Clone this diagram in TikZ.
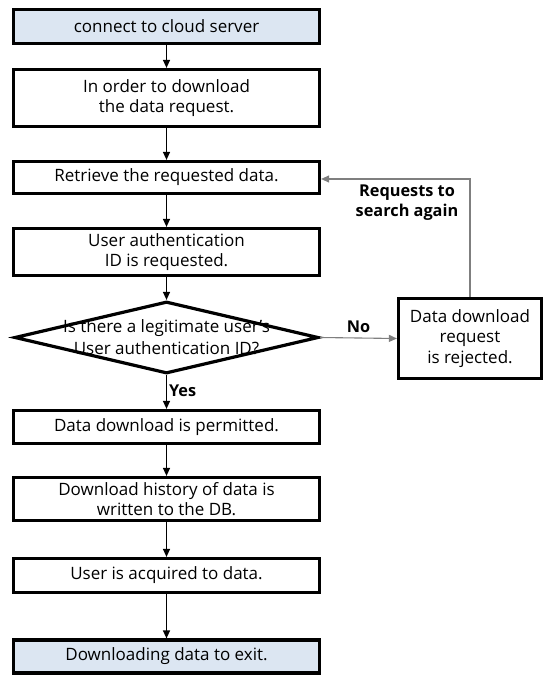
\documentclass[tikz,border=0pt]{standalone}
\usepackage{fontspec}
\setmainfont{Open Sans}
\usetikzlibrary{arrows.meta,shapes.geometric}
\definecolor{lightbl}{HTML}{DCE6F2}
\definecolor{lnk}{HTML}{7F7F7F}
\begin{document}
\begin{tikzpicture}[x=1pt,y=-1pt,
  box/.style={draw, line width=3.2pt, minimum width=306pt, align=center,
    font=\fontsize{17}{20.5}\selectfont, inner sep=0pt},
  endbox/.style={box, fill=lightbl},
  arr/.style={-{Triangle[length=8pt,width=7pt]}, line width=1.2pt},
  garr/.style={-{Triangle[length=8pt,width=7pt]}, line width=1.1pt, draw=lnk},
  lbl/.style={font=\fontsize{16.3}{20}\selectfont\bfseries, align=center}]
\useasboundingbox (0,0) rectangle (545,676);
\node[endbox, minimum height=34pt] (b1) at (166.5,26.5) {connect to cloud server};
\node[box, minimum height=57pt] (b2) at (166.5,98) {In order to download\\the data request.};
\node[box, minimum height=32pt] (b3) at (166.5,177.5) {Retrieve the requested data.};
\node[box, minimum height=47pt] (b4) at (166.5,252) {User authentication\\ID is requested.};
\node[draw, diamond, line width=3.2pt, minimum width=304pt, minimum height=72pt, inner sep=0pt] (d) at (166.5,337.5) {};
\node[font=\fontsize{17}{22}\selectfont, align=center] (dt) at (d.center) {Is there a legitimate user's\\User authentication ID?};
\node[box, minimum width=143pt, minimum height=80pt] (r) at (470,338.5) {Data download\\request\\is rejected.};
\node[box, minimum height=33pt] (b5) at (166.5,427) {Data download is permitted.};
\node[box, minimum height=43pt] (b6) at (166.5,499) {Download history of data is\\written to the DB.};
\node[box, minimum height=34pt] (b7) at (166.5,575.5) {User is acquired to data.};
\node[endbox, minimum height=33pt] (b8) at (166.5,656.5) {Downloading data to exit.};
\draw[arr] (b1) -- (b2);
\draw[arr] (b2) -- (b3);
\draw[arr] (b3) -- (b4);
\draw[arr] (b4) -- (d);
\draw[arr] (d) -- (b5) node[lbl, pos=0.45, anchor=west, inner sep=2pt] {Yes};
\draw[arr] (b5) -- (b6);
\draw[arr] (b6) -- (b7);
\draw[arr] (b7) -- (b8);
\draw[garr] (d.east) -- (r.west) node[lbl, midway, above=1pt] {No};
\coordinate (c1) at ([yshift=-1.5pt]r.north |- b3.east);
\draw[garr] (r.north) -- (c1) -- (c1 -| b3.east);
\node[lbl] (fb) at (407,203) {Requests to\\search again};
\end{tikzpicture}
\end{document}
